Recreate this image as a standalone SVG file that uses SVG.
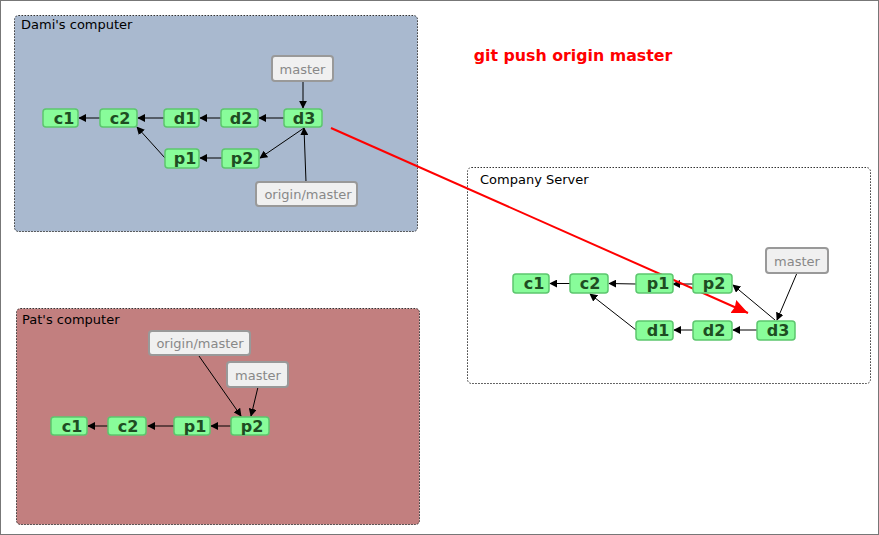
<svg xmlns="http://www.w3.org/2000/svg" width="879" height="535" viewBox="0 0 879 535">
<defs>
<style>
.box{stroke:#333;stroke-width:1;stroke-dasharray:1.5 1.5}
.title{font-family:"DejaVu Sans",sans-serif;font-size:13px;fill:#000}
.n rect{fill:#88fc9a;stroke:#5cc66e;stroke-width:1.5}
.n text{font-family:"DejaVu Sans",sans-serif;font-weight:bold;font-size:16px;fill:#1e4d22;text-anchor:middle}
.r rect{fill:#f0f0f0;stroke:#999;stroke-width:2}
.r text{font-family:"DejaVu Sans",sans-serif;font-size:13px;fill:#888;text-anchor:middle}
.e line{stroke:#000;stroke-width:1;marker-end:url(#ah)}
</style>
<marker id="ah" viewBox="0 0 10 10" refX="9" refY="5" markerWidth="8" markerHeight="8" markerUnits="userSpaceOnUse" orient="auto"><path d="M0,0 L10,5 L0,10 z" fill="#000"/></marker>
<marker id="rh" viewBox="0 0 10 10" refX="10" refY="5" markerWidth="16" markerHeight="14" markerUnits="userSpaceOnUse" orient="auto" preserveAspectRatio="none"><path d="M0,0 L10,5 L0,10 L1,5 z" fill="#f00"/></marker>
</defs>
<rect x="0.5" y="0.5" width="878" height="534" fill="#fff" stroke="#777"/>

<g id="dami">
<rect class="box" x="14.5" y="15.5" width="403" height="216" rx="4" fill="#a9b9cf"/>
<text class="title" x="21" y="29">Dami's computer</text>
</g>
<g id="server">
<rect class="box" x="467.5" y="167.5" width="403" height="216" rx="4" fill="#fff"/>
<text class="title" x="480" y="184">Company Server</text>
</g>
<g id="pat">
<rect class="box" x="16.5" y="308.5" width="403" height="216" rx="4" fill="#c27f7f"/>
<text class="title" x="22" y="324">Pat's computer</text>
</g>

<text x="573" y="61" font-family="DejaVu Sans, sans-serif" font-weight="bold" font-size="15.8" fill="#f00" text-anchor="middle">git push origin master</text>

<g id="connectors" class="e">
<line x1="100" y1="118" x2="79" y2="118"/>
<line x1="164" y1="118" x2="138" y2="118"/>
<line x1="221" y1="118" x2="200" y2="118"/>
<line x1="284" y1="118" x2="259" y2="118"/>
<line x1="165" y1="158" x2="137" y2="127"/>
<line x1="222" y1="158" x2="200" y2="158"/>
<line x1="304" y1="128" x2="260" y2="158"/>
<line x1="303" y1="81" x2="303" y2="108"/>
<line x1="306" y1="182" x2="304" y2="128"/>

<line x1="570" y1="283.5" x2="550" y2="283.5"/>
<line x1="636" y1="284" x2="609" y2="283.5"/>
<line x1="693" y1="284" x2="673" y2="284"/>
<line x1="636" y1="330" x2="590" y2="294"/>
<line x1="693" y1="330" x2="674" y2="330"/>
<line x1="757" y1="330" x2="733" y2="330"/>
<line x1="775" y1="320" x2="733" y2="285"/>
<line x1="797" y1="273" x2="777" y2="320"/>

<line x1="108" y1="426" x2="88" y2="426"/>
<line x1="174" y1="426" x2="148" y2="426"/>
<line x1="231" y1="426" x2="211" y2="426"/>
<line x1="199" y1="356" x2="241" y2="416"/>
<line x1="258" y1="387" x2="251" y2="416"/>

<line x1="331" y1="128" x2="748" y2="313" style="stroke:#f00;stroke-width:2;marker-end:url(#rh)"/>
</g>

<g id="dami-c1" class="n"><rect x="43" y="109" width="35" height="18" rx="3"/><text x="64" y="124">c1</text></g>
<g id="dami-c2" class="n"><rect x="100" y="109" width="37" height="18" rx="3"/><text x="120" y="124">c2</text></g>
<g id="dami-d1" class="n"><rect x="164" y="109" width="35" height="18" rx="3"/><text x="185" y="124">d1</text></g>
<g id="dami-d2" class="n"><rect x="221" y="109" width="37" height="18" rx="3"/><text x="241" y="124">d2</text></g>
<g id="dami-d3" class="n"><rect x="284" y="109" width="38" height="18" rx="3"/><text x="304" y="124">d3</text></g>
<g id="dami-p1" class="n"><rect x="165" y="149" width="34" height="19" rx="3"/><text x="185" y="164">p1</text></g>
<g id="dami-p2" class="n"><rect x="222" y="149" width="37" height="19" rx="3"/><text x="242" y="164">p2</text></g>
<g id="dami-master" class="r"><rect x="272" y="56" width="61" height="25" rx="3"/><text x="302.5" y="74">master</text></g>
<g id="dami-origin" class="r"><rect x="256" y="182" width="101" height="24" rx="3"/><text x="308" y="199">origin/master</text></g>

<g id="srv-c1" class="n"><rect x="513" y="274" width="36" height="19" rx="3"/><text x="534" y="289">c1</text></g>
<g id="srv-c2" class="n"><rect x="570" y="274" width="38" height="19" rx="3"/><text x="590" y="289">c2</text></g>
<g id="srv-p1" class="n"><rect x="636" y="274" width="37" height="19" rx="3"/><text x="658" y="289">p1</text></g>
<g id="srv-p2" class="n"><rect x="693" y="274" width="39" height="19" rx="3"/><text x="714" y="289">p2</text></g>
<g id="srv-d1" class="n"><rect x="636" y="321" width="37" height="19" rx="3"/><text x="658" y="336">d1</text></g>
<g id="srv-d2" class="n"><rect x="693" y="321" width="39" height="19" rx="3"/><text x="714" y="336">d2</text></g>
<g id="srv-d3" class="n"><rect x="757" y="321" width="38" height="19" rx="3"/><text x="778" y="336">d3</text></g>
<g id="srv-master" class="r"><rect x="766" y="248" width="62" height="25" rx="3"/><text x="797" y="266">master</text></g>

<g id="pat-c1" class="n"><rect x="51" y="417" width="36" height="18" rx="3"/><text x="72" y="432">c1</text></g>
<g id="pat-c2" class="n"><rect x="108" y="417" width="38" height="18" rx="3"/><text x="128" y="432">c2</text></g>
<g id="pat-p1" class="n"><rect x="174" y="417" width="36" height="18" rx="3"/><text x="195" y="432">p1</text></g>
<g id="pat-p2" class="n"><rect x="231" y="417" width="38" height="18" rx="3"/><text x="252" y="432">p2</text></g>
<g id="pat-origin" class="r"><rect x="149" y="331" width="101" height="24" rx="3"/><text x="200" y="348">origin/master</text></g>
<g id="pat-master" class="r"><rect x="227" y="362" width="61" height="25" rx="3"/><text x="258" y="380">master</text></g>
</svg>
